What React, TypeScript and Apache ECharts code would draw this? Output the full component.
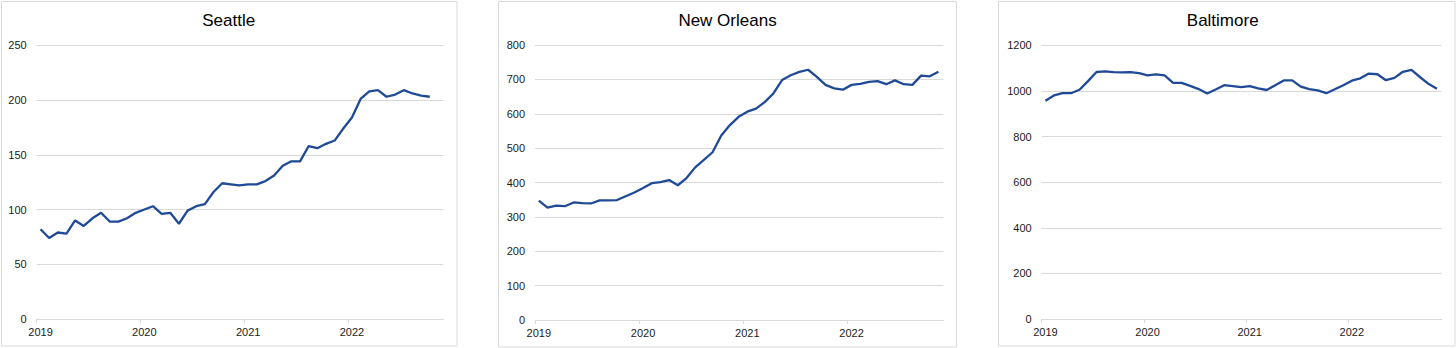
import React, { useEffect, useRef } from 'react';
import * as echarts from 'echarts';

const cities = ['Seattle', 'New Orleans', 'Baltimore'];
const yearLabels = ['2019', '2020', '2021', '2022'];
const yearTickMonths = [0, 12, 24, 36];

const seattle = [82, 74, 79, 78, 90, 85, 92, 97, 89, 89, 92, 97, 100, 103, 96, 97, 87, 99, 103, 105, 116, 124, 123, 122, 123, 123, 126, 131, 140, 144, 144, 158, 156, 160, 163, 174, 184, 201, 208, 209, 203, 205, 209, 206, 204, 203];
const newOrleans = [347, 327, 333, 331, 342, 340, 339, 348, 348, 349, 360, 371, 384, 398, 401, 407, 392, 413, 444, 466, 488, 537, 567, 591, 606, 615, 634, 659, 698, 712, 722, 728, 707, 684, 674, 670, 684, 687, 693, 695, 686, 697, 686, 684, 711, 709, 722];
const baltimore = [957, 980, 990, 990, 1005, 1043, 1083, 1086, 1082, 1081, 1082, 1078, 1068, 1073, 1068, 1035, 1035, 1022, 1008, 989, 1006, 1025, 1021, 1017, 1021, 1011, 1004, 1025, 1046, 1046, 1019, 1008, 1002, 990, 1007, 1025, 1045, 1055, 1076, 1073, 1047, 1057, 1084, 1092, 1061, 1031, 1010];

const yMax = [250, 800, 1200];
const yStep = [50, 100, 200];

const MONTH_OFFSET = 0.44;
const X_MAX = 47;

const FONT = '"Liberation Sans", Arial, Helvetica, sans-serif';
const GRID_COLOR = '#d9d9d9';
const LINE_COLOR = '#1f4a96';
const TEXT_COLOR = '#1a1a1a';

const gridBoxes = [
  { left: 36.7, top: 45.3, width: 406.6, height: 273.7 },
  { left: 535, top: 45, width: 408.3, height: 275 },
  { left: 1041.7, top: 45.3, width: 400, height: 273.7 },
];
const panels = [
  { x: 1.5, y: 1.5, w: 455.5, h: 344.5 },
  { x: 498.5, y: 1.5, w: 458, h: 345.5 },
  { x: 998.5, y: 1.5, w: 456.5, h: 344.5 },
];
const titleX = [228.7, 727.5, 1222.7];

export default function App() {
  const ref = useRef<HTMLDivElement>(null);
  useEffect(() => {
    const chart = echarts.init(ref.current!, null, { renderer: 'svg' });
    const allData = [seattle, newOrleans, baltimore];
    const option: any = {
      animation: false,
      backgroundColor: '#ffffff',
      textStyle: { fontFamily: FONT },
      grid: gridBoxes.map((g) => ({ ...g, containLabel: false })),
      xAxis: allData.map((_, i) => ({
        type: 'value',
        gridIndex: i,
        min: 0,
        max: X_MAX,
        axisLine: { show: true, lineStyle: { color: GRID_COLOR, width: 1 } },
        axisTick: {
          show: true,
          customValues: yearTickMonths,
          length: 4,
          lineStyle: { color: GRID_COLOR, width: 1 },
        },
        axisLabel: {
          customValues: yearTickMonths.map((m) => m + MONTH_OFFSET),
          formatter: (v: number) => yearLabels[Math.round((v - MONTH_OFFSET) / 12)] ?? '',
          fontSize: 11,
          color: TEXT_COLOR,
          fontFamily: FONT,
          margin: 7,
        },
        splitLine: { show: false },
      })),
      yAxis: allData.map((_, i) => ({
        type: 'value',
        gridIndex: i,
        min: 0,
        max: yMax[i],
        interval: yStep[i],
        axisLine: { show: false },
        axisTick: { show: false },
        axisLabel: {
          fontSize: 11,
          color: TEXT_COLOR,
          fontFamily: FONT,
          margin: 10,
          formatter: (v: number) => String(v),
        },
        splitLine: { show: true, lineStyle: { color: GRID_COLOR, width: 1 } },
      })),
      series: allData.map((d, i) => ({
        type: 'line',
        name: cities[i],
        xAxisIndex: i,
        yAxisIndex: i,
        data: d.map((v, k) => [k + MONTH_OFFSET, v]),
        showSymbol: false,
        symbol: 'none',
        lineStyle: { color: LINE_COLOR, width: 2.3 },
        z: 5,
      })),
      graphic: [
        ...panels.map((p) => ({
          type: 'rect',
          shape: { x: p.x, y: p.y, width: p.w, height: p.h },
          style: { fill: 'none', stroke: GRID_COLOR, lineWidth: 1 },
          silent: true,
          z: -1,
        })),
        ...cities.map((c, i) => ({
          type: 'text',
          x: titleX[i],
          y: 20.5,
          style: {
            text: c,
            fontSize: 17,
            fontFamily: FONT,
            fill: '#000000',
            textAlign: 'center',
            textVerticalAlign: 'middle',
          },
        })),
      ],
    };
    chart.setOption(option);
    return () => chart.dispose();
  }, []);
  return (
    <div
      ref={ref}
      style={{ position: 'absolute', left: 0, top: 0, width: 1456, height: 348 }}
    />
  );
}
